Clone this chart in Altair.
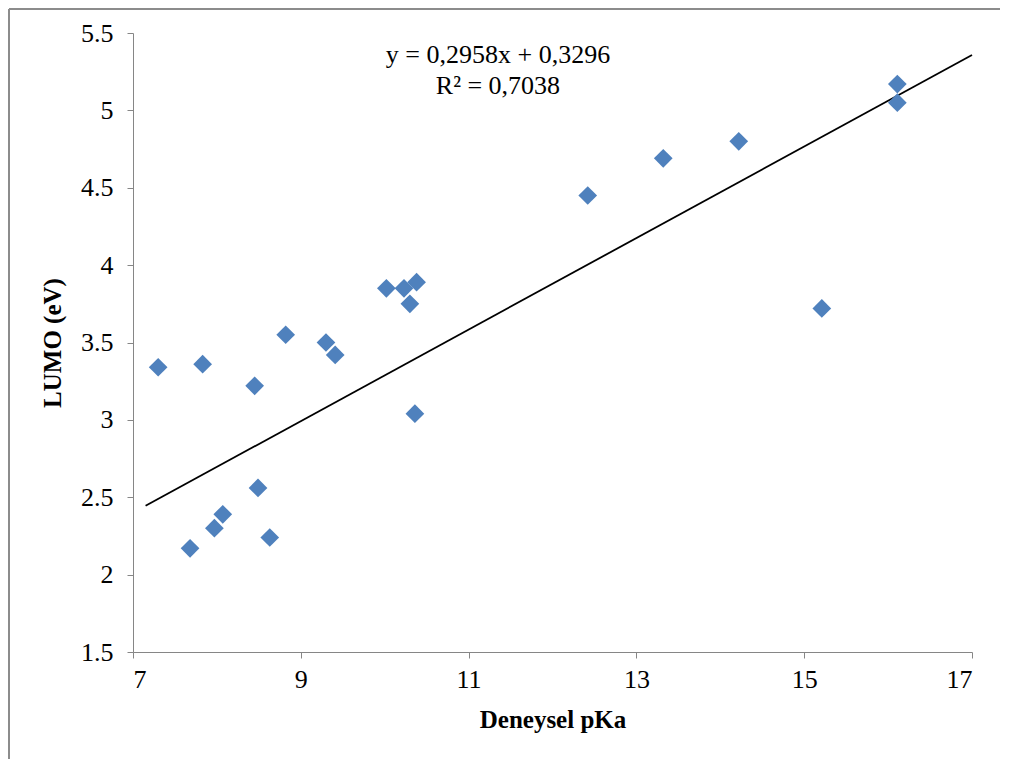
import altair as alt
import pandas as pd

pka = [7.30, 7.68, 7.83, 7.97, 8.07, 8.45, 8.49, 8.63, 8.82, 9.30, 9.41,
       10.02, 10.23, 10.30, 10.38, 10.36, 12.42, 13.32, 14.22, 15.21, 16.11, 16.11]
lumo = [3.34, 2.17, 3.36, 2.30, 2.39, 3.22, 2.56, 2.24, 3.55, 3.50, 3.42,
        3.85, 3.85, 3.75, 3.89, 3.04, 4.45, 4.69, 4.80, 3.72, 5.17, 5.05]

slope = 0.2958
intercept = 0.3296
trend_x = [7.15, 17.0]
eq_lines = ["y = 0,2958x + 0,3296", "R² = 0,7038"]

x_ticks = [7, 9, 11, 13, 15, 17]
y_ticks = [1.5, 2, 2.5, 3, 3.5, 4, 4.5, 5, 5.5]

df = pd.DataFrame({"pKa": pka, "LUMO": lumo})
tdf = pd.DataFrame({"pKa": trend_x, "LUMO": [slope * v + intercept for v in trend_x]})
edf = pd.DataFrame({"pKa": [11.35, 11.35], "LUMO": [5.355, 5.16], "t": eq_lines})

FONT = "Liberation Serif"
FS = 26
W, H = 839, 619

xs = alt.Scale(domain=[7, 17], nice=False, zero=False)
ys = alt.Scale(domain=[1.5, 5.5], nice=False, zero=False)

xaxis = alt.Axis(values=x_ticks, title="Deneysel pKa", grid=False, format="d",
                 labelFontSize=FS, titleFontSize=FS - 1, labelPadding=8, titlePadding=15,
                 tickSize=6, domainColor="#868686", tickColor="#868686")
yaxis = alt.Axis(values=y_ticks, title="LUMO (eV)", grid=False, format=".1~f",
                 labelFontSize=FS, titleFontSize=FS - 1, labelPadding=14, titlePadding=15,
                 tickSize=6, domainColor="#868686", tickColor="#868686")

frame = pd.DataFrame({"a": [0]})
border_left = alt.Chart(frame).mark_rule(stroke="#8c8c8c", strokeWidth=2).encode(
    x=alt.value(-124), y=alt.value(-24), y2=alt.value(H + 110)
)
border_top = alt.Chart(frame).mark_rule(stroke="#8c8c8c", strokeWidth=2).encode(
    y=alt.value(-24), x=alt.value(-124), x2=alt.value(W + 28)
)

points = alt.Chart(df).mark_point(
    shape="diamond", filled=True, size=350, color="#4F81BD", opacity=1
).encode(
    x=alt.X("pKa:Q", scale=xs, axis=xaxis),
    y=alt.Y("LUMO:Q", scale=ys, axis=yaxis),
)

trend = alt.Chart(tdf).mark_line(color="black", strokeWidth=1.8).encode(
    x=alt.X("pKa:Q", scale=xs),
    y=alt.Y("LUMO:Q", scale=ys),
)

eq = alt.Chart(edf).mark_text(fontSize=FS, font=FONT, color="black", align="center", baseline="middle").encode(
    x=alt.X("pKa:Q", scale=xs),
    y=alt.Y("LUMO:Q", scale=ys),
    text="t:N",
)

chart = alt.layer(border_left, border_top, trend, points, eq).properties(
    width=W, height=H,
    autosize=alt.AutoSizeParams(type="none"),
    padding={"left": 125, "top": 25, "right": 31, "bottom": 107},
).configure_view(stroke=None).configure_axis(
    labelFont=FONT, titleFont=FONT, labelColor="black", titleColor="black",
    titleFontWeight="bold"
)

chart.save("out.html", embed_options={"renderer": "svg", "actions": False})
